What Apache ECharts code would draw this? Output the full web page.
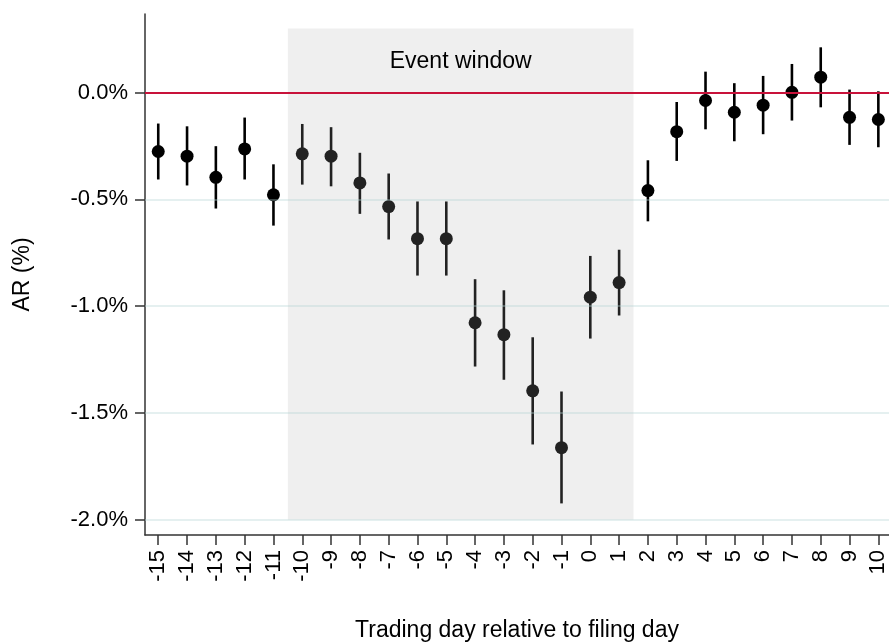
<!DOCTYPE html>
<html>
<head>
<meta charset="utf-8">
<title>Abnormal returns around filing day</title>
<script src="https://cdn.jsdelivr.net/npm/echarts@6/dist/echarts.min.js"></script>
<style>
  html, body { margin: 0; padding: 0; background: #ffffff; }
  #chart { width: 889px; height: 644px; }
</style>
</head>
<body>
<div id="chart"></div>
<script>
// Trading days relative to the filing day
const days = [-15, -14, -13, -12, -11, -10, -9, -8, -7, -6, -5, -4, -3, -2, -1, 0, 1, 2, 3, 4, 5, 6, 7, 8, 9, 10];
// Mean abnormal return (%) per day
const ar = [-0.276, -0.298, -0.397, -0.264, -0.479, -0.287, -0.298, -0.423, -0.534, -0.684, -0.684, -1.078, -1.134,
            -1.397, -1.663, -0.958, -0.890, -0.459, -0.183, -0.037, -0.092, -0.059, 0.001, 0.072, -0.116, -0.126];
// Lower and upper confidence bounds (%)
const ciLow = [-0.407, -0.435, -0.543, -0.407, -0.623, -0.431, -0.439, -0.568, -0.688, -0.857, -0.857, -1.283, -1.345,
               -1.648, -1.924, -1.152, -1.044, -0.603, -0.320, -0.172, -0.228, -0.195, -0.131, -0.069, -0.245, -0.256];
const ciHigh = [-0.145, -0.158, -0.251, -0.117, -0.336, -0.147, -0.162, -0.282, -0.379, -0.510, -0.510, -0.874, -0.926,
                -1.146, -1.400, -0.765, -0.736, -0.317, -0.044, 0.098, 0.044, 0.078, 0.134, 0.212, 0.014, 0.006];
// Event window bounds (days) and its vertical extent (%)
const windowDays = [-10.5, 1.5];
const windowRange = [-2.0, 0.3];
const windowLabel = 'Event window';
// Y tick values (%)
const yTicks = [-2.0, -1.5, -1.0, -0.5, 0.0];
const gridValues = [-2.0, -1.5, -1.0, -0.5];

const FONT = "'Liberation Sans', Arial, Helvetica, sans-serif";
const inWindow = d => d >= windowDays[0] && d <= windowDays[1];
const pointColor = d => inWindow(d) ? '#222222' : '#000000';

const points = days.map((d, i) => ({ value: [d, ar[i]], itemStyle: { color: pointColor(d), opacity: 1 } }));
const bars = days.map((d, i) => [d, ciLow[i], ciHigh[i]]);

const chart = echarts.init(document.getElementById('chart'), null, { renderer: 'canvas' });

chart.setOption({
  animation: false,
  backgroundColor: '#ffffff',
  grid: { left: 145, right: 0, top: 14, bottom: 109, containLabel: false, outerBoundsMode: 'none' },
  xAxis: {
    type: 'value',
    min: -15.46,
    max: 10.37,
    name: 'Trading day relative to filing day',
    nameLocation: 'middle',
    nameGap: 84,
    nameTextStyle: { fontFamily: FONT, fontSize: 23, color: '#000' },
    axisLine: { show: true, onZero: false, lineStyle: { color: '#333', width: 1.5 } },
    axisTick: { show: true, length: 10, customValues: days, lineStyle: { color: '#333', width: 1.5 } },
    axisLabel: {
      customValues: days,
      rotate: 90,
      margin: 15,
      fontFamily: FONT,
      fontSize: 22,
      color: '#000',
      formatter: v => String(Math.round(v))
    },
    splitLine: { show: false }
  },
  yAxis: {
    type: 'value',
    min: -2.072,
    max: 0.368,
    name: 'AR (%)',
    nameLocation: 'middle',
    nameGap: 111,
    nameRotate: 90,
    nameTextStyle: { fontFamily: FONT, fontSize: 23, color: '#000' },
    axisLine: { show: true, onZero: false, lineStyle: { color: '#333', width: 1.5 } },
    axisTick: { show: true, length: 10, customValues: yTicks, lineStyle: { color: '#333', width: 1.5 } },
    axisLabel: {
      customValues: yTicks,
      margin: 17,
      fontFamily: FONT,
      fontSize: 22,
      color: '#000',
      formatter: v => v.toFixed(1) + '%'
    },
    splitLine: { show: false }
  },
  series: [
    {
      // shaded event window with its caption, plus horizontal reference lines
      type: 'line',
      data: [],
      silent: true,
      z: 1,
      markArea: {
        silent: true,
        itemStyle: { color: '#efefef' },
        label: {
          show: true,
          position: 'insideTop',
          distance: 22,
          formatter: windowLabel,
          fontFamily: FONT,
          fontSize: 23,
          color: '#000'
        },
        data: [[{ xAxis: windowDays[0], yAxis: windowRange[1] }, { xAxis: windowDays[1], yAxis: windowRange[0] }]]
      },
      markLine: {
        silent: true,
        symbol: 'none',
        label: { show: false },
        lineStyle: { type: 'solid', color: 'rgba(180,212,212,0.35)', width: 2 },
        data: gridValues.map(v => ({ yAxis: v }))
      }
    },
    {
      // zero line
      type: 'line',
      data: [],
      silent: true,
      z: 2,
      markLine: {
        silent: true,
        symbol: 'none',
        label: { show: false },
        lineStyle: { type: 'solid', color: '#c8123a', width: 2 },
        data: [{ yAxis: 0 }]
      }
    },
    {
      // confidence intervals
      type: 'custom',
      z: 3,
      data: bars,
      renderItem: (params, api) => {
        const x = api.value(0);
        const lo = api.coord([x, api.value(1)]);
        const hi = api.coord([x, api.value(2)]);
        return {
          type: 'line',
          shape: { x1: lo[0], y1: lo[1], x2: hi[0], y2: hi[1] },
          style: { stroke: pointColor(x), lineWidth: 2.6 }
        };
      },
      encode: { x: 0, y: [1, 2] }
    },
    {
      type: 'scatter',
      z: 4,
      symbol: 'circle',
      symbolSize: 13,
      itemStyle: { opacity: 1 },
      data: points
    }
  ]
});
</script>
</body>
</html>
